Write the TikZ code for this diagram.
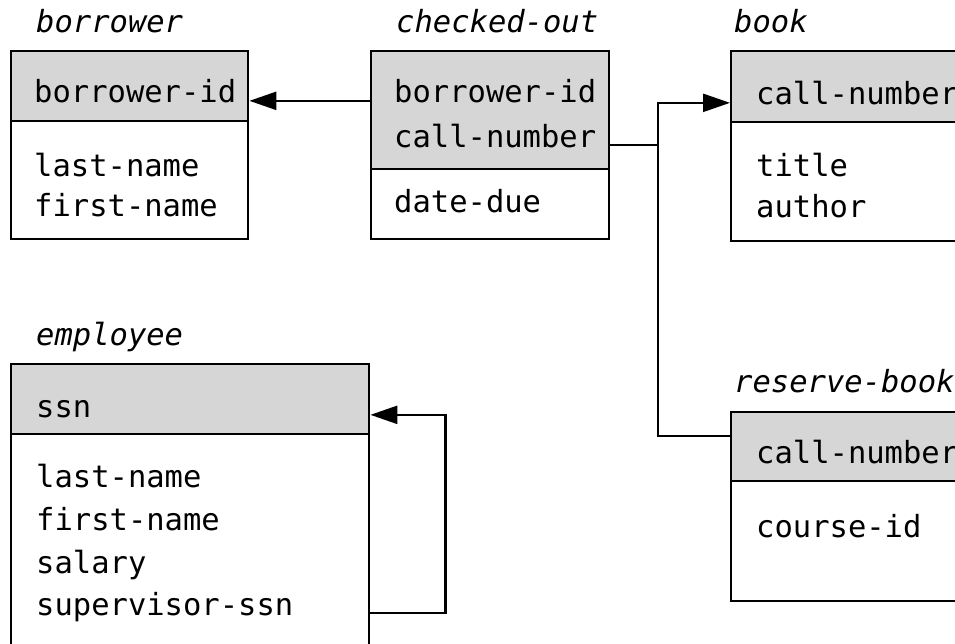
\documentclass[tikz,border=0pt]{standalone}
\usepackage{fontspec}
\setmonofont{DejaVu Sans Mono}
\usetikzlibrary{arrows.meta}
\definecolor{keygray}{RGB}{214,214,214}
\tikzset{>/.tip={Triangle[length=27pt,width=18pt]}}

\begin{document}
\begin{tikzpicture}[x=1pt,y=-1pt,line width=2.4pt,
  every node/.style={font=\ttfamily\fontsize{30.5}{40}\selectfont},
  keybox/.style={draw,fill=keygray,anchor=north west,inner sep=0pt},
  attrbox/.style={draw,fill=white,anchor=north west,inner sep=0pt},
  fld/.style={anchor=base west,inner sep=0pt},
  relname/.style={anchor=base west,inner sep=0pt,font=\ttfamily\itshape\fontsize{30.5}{40}\selectfont}]
\useasboundingbox (0,0) rectangle (955,644);
\clip (0,0) rectangle (955,644);

\node[relname] (bor) at (35,33)  {borrower};
\node[relname] (chk) at (395,33) {checked-out};
\node[relname] (book) at (733,33) {book};
\node[relname] (emp) at (35,345) {employee};
\node[relname] (rsv) at (733,392) {reserve-book};

\node[attrbox,minimum width=237pt,minimum height=118pt] (bor-body) at (10,120) {};
\node[keybox, minimum width=237pt,minimum height=70pt]  (bor-head) at (10,50) {};
\node[attrbox,minimum width=238pt,minimum height=70pt]  (chk-body) at (370,168) {};
\node[keybox, minimum width=238pt,minimum height=118pt] (chk-head) at (370,50) {};
\node[attrbox,minimum width=260pt,minimum height=119pt] (book-body) at (730,121) {};
\node[keybox, minimum width=260pt,minimum height=71pt]  (book-head) at (730,50) {};
\node[attrbox,minimum width=358pt,minimum height=260pt] (emp-body) at (10,433) {};
\node[keybox, minimum width=358pt,minimum height=70pt]  (emp-head) at (10,363) {};
\node[attrbox,minimum width=260pt,minimum height=120pt] (rsv-body) at (730,480) {};
\node[keybox, minimum width=260pt,minimum height=69pt]  (rsv-head) at (730,411) {};

\node[fld] (bor-key)  at (33,103)  {borrower-id};
\node[fld] (bor-ln)   at (33,177)  {last-name};
\node[fld] (bor-fn)   at (33,217)  {first-name};
\node[fld] (chk-bid)  at (393,103) {borrower-id};
\node[fld] (chk-cn)   at (393,148) {call-number};
\node[fld] (chk-due)  at (393,213) {date-due};
\node[fld] (book-key) at (755,105) {call-number};
\node[fld] (book-tt)  at (755,177) {title};
\node[fld] (book-au)  at (755,218) {author};
\node[fld] (emp-key)  at (35,417)  {ssn};
\node[fld] (emp-ln)   at (35,487)  {last-name};
\node[fld] (emp-fn)   at (35,530)  {first-name};
\node[fld] (emp-sal)  at (35,573)  {salary};
\node[fld] (emp-sup)  at (35,615)  {supervisor-ssn};
\node[fld] (rsv-key)  at (755,463) {call-number};
\node[fld] (rsv-cid)  at (755,537) {course-id};

\coordinate (split) at (658,145);

\draw[->] (chk-head.west |- bor-key.mid) -- (bor-head.east |- bor-key.mid);
\draw (chk-head.east |- split) -- (split);
\draw[->] (split) |- (book-head.west |- book-key.mid);
\draw (split) |- ([yshift=11pt]rsv-head.west);
\draw[->] (emp-body.east |- emp-sup.mid) -- ++(75,0) |- (emp-head.east |- emp-key.mid);
\end{tikzpicture}
\end{document}
